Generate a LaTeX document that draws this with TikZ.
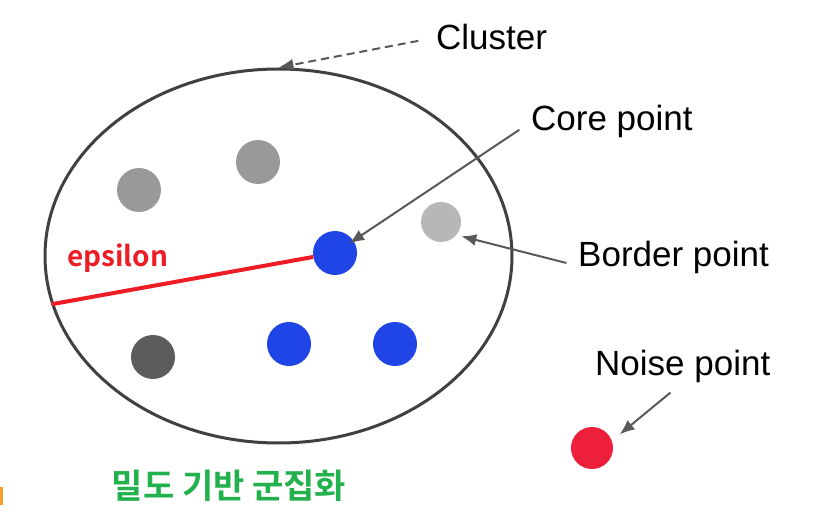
\documentclass[tikz,border=0pt]{standalone}
\usepackage{fontspec}
\setmainfont{Liberation Sans}
\newfontfamily\krfont{Noto Sans CJK KR}[BoldFont={Noto Sans CJK KR Bold}]
\usetikzlibrary{shapes.geometric}
\usetikzlibrary{arrows.meta}
\definecolor{arrowgray}{HTML}{595959}
\definecolor{rimgray}{HTML}{404040}
\definecolor{midgray}{HTML}{999999}
\definecolor{palegray}{HTML}{B7B7B7}
\definecolor{deepgray}{HTML}{5C5C5C}
\definecolor{coreblue}{HTML}{1F45E6}
\definecolor{noisered}{HTML}{EE1F3B}
\definecolor{epsred}{HTML}{EE1C25}
\definecolor{titlegreen}{HTML}{22B14C}
\definecolor{markorange}{HTML}{F7A128}

\begin{document}
\begin{tikzpicture}[x=1pt,y=-1pt,
  dot/.style={circle,inner sep=0pt,minimum size=44pt},
  lbl/.style={anchor=base west,inner sep=0pt,font=\fontsize{35}{40}\selectfont},
  pointer/.style={draw=arrowgray,line width=2pt,-{Latex[length=15pt,width=12pt]}}]
  \useasboundingbox (0,0) rectangle (815,524);
  \fill[markorange] (0,487) rectangle (2.5,505);
  % the cluster
  \node[draw=rimgray,line width=3pt,ellipse,inner sep=0pt,minimum width=467pt,minimum height=374pt] (clu) at (278.5,256) {};
  \node[dot,fill=midgray] (g1) at (139,190) {};
  \node[dot,fill=midgray] (g2) at (258,162) {};
  \node[dot,fill=palegray,minimum size=40pt] (bd) at (441,222) {};
  \node[dot,fill=coreblue] (core) at (335,253) {};
  \node[dot,fill=deepgray] (g3) at (153,357) {};
  \node[dot,fill=coreblue] (b2) at (289,344) {};
  \node[dot,fill=coreblue] (b3) at (395,344) {};
  \node[dot,fill=noisered,minimum size=42pt] (noise) at (592,448) {};
  \draw[epsred,line width=4pt] (core) -- (clu.192);
  % labels
  \node[lbl] (cl) at (436,50) {Cluster};
  \node[lbl] (cp) at (531,131) {Core point};
  \node[lbl] (bp) at (578,267) {Border point};
  \node[lbl] (np) at (595,375) {Noise point};
  \node[anchor=base west,inner sep=0pt,text=epsred,font=\krfont\bfseries\fontsize{28}{32}\selectfont] (eps) at (67,266) {epsilon};
  \node[inner sep=0pt,text=titlegreen,font=\krfont\bfseries\fontsize{34}{38}\selectfont] (title) at (229,486) {밀도 기반 군집화};
  \draw[pointer,dash pattern=on 8pt off 5pt,shorten <=18pt] (cl.west) -- (clu.north);
  \draw[pointer,shorten <=14pt,shorten >=-5pt] (cp.west) -- (core);
  \draw[pointer,shorten <=12pt,shorten >=5pt] ([yshift=-8pt]bp.west) -- (bd.-40);
  \draw[pointer,shorten <=16pt,shorten >=10pt] (np.south) -- (noise.20);
\end{tikzpicture}
\end{document}
